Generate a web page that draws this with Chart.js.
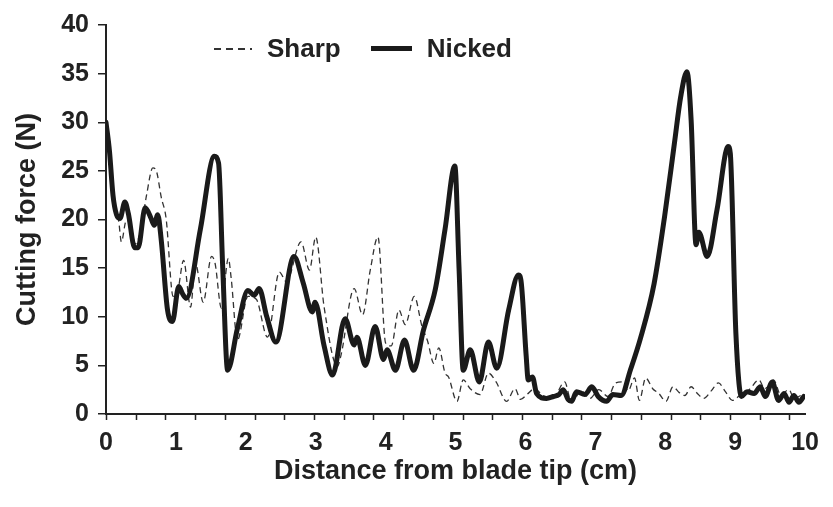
<!DOCTYPE html>
<html>
<head>
<meta charset="utf-8">
<script src="https://cdn.jsdelivr.net/npm/chart.js@4.4.1/dist/chart.umd.min.js"></script>
<style>
  body { margin: 0; background: #fff; }
  .wrap { position: relative; width: 833px; height: 507px; }
  .legend {
    position: absolute; top: 33px; left: 214px;
    font: bold 26px "Liberation Sans", Arial, sans-serif; color: #222;
    display: flex; align-items: center; white-space: nowrap;
  }
  .swatch { display: inline-block; width: 38px; margin-right: 15px; }
  .dash { height: 2px; background: repeating-linear-gradient(90deg, #333 0 7px, transparent 7px 12px); }
  .solid { height: 5px; background: #1a1a1a; width: 41px; }
  .gap { width: 30px; display: inline-block; }
</style>
</head>
<body>
<div class="wrap">
  <canvas id="forceChart"></canvas>
  <div class="legend">
    <span class="swatch dash"></span><span>Sharp</span>
    <span class="gap"></span>
    <span class="swatch solid"></span><span>Nicked</span>
  </div>
</div>
<script>
// ========== DATA ==========
const sharpX = [0.00,0.06,0.12,0.18,0.22,0.29,0.35,0.42,0.50,0.58,0.67,0.72,0.79,0.86,0.96,1.03,1.11,1.21,1.28,1.39,
  1.51,1.56,1.65,1.75,1.79,1.88,2.03,2.15,2.31,2.48,2.58,2.79,2.91,3.00,3.12,3.31,3.36,3.55,3.67,3.78,
  3.89,4.00,4.08,4.19,4.28,4.41,4.52,4.60,4.69,4.76,4.85,4.90,5.02,5.11,5.21,5.35,5.47,5.58,5.73,5.85,
  5.93,6.02,6.13,6.25,6.40,6.56,6.66,6.80,6.92,7.05,7.18,7.29,7.39,7.47,7.56,7.63,7.72,7.82,7.91,8.01,
  8.11,8.20,8.28,8.37,8.46,8.55,8.66,8.76,8.86,8.96,9.08,9.20,9.34,9.42,9.48,9.55,9.65,9.77,9.84,9.91,9.98];
const sharpY = [29.5,25.5,21.0,19.9,17.7,19.9,19.5,17.5,19.0,22.5,25.3,25.0,22.3,20.1,12.1,12.8,15.8,11.0,15.5,11.5,
  16.2,15.5,10.9,16.0,14.0,7.6,12.1,11.8,7.9,14.6,13.6,17.7,14.8,18.2,11.0,4.9,6.0,12.9,10.2,14.8,
  18.2,7.3,7.0,10.7,9.2,12.1,9.0,7.5,5.2,6.8,4.2,3.8,1.3,3.5,2.6,2.0,4.2,3.3,1.3,2.6,
  1.5,2.0,2.6,1.9,1.7,3.3,1.2,2.4,1.6,2.5,1.8,3.2,3.3,2.4,3.7,1.4,3.7,2.6,2.1,1.3,
  2.8,2.2,1.9,2.8,2.1,1.6,2.4,3.2,2.3,1.4,2.0,2.5,3.5,2.6,2.9,3.5,2.0,2.5,1.6,1.8,2.1];

const nickedX = [0.00,0.05,0.10,0.15,0.20,0.27,0.32,0.41,0.46,0.56,0.64,0.69,0.74,0.79,0.88,0.95,1.04,1.10,1.15,1.35,
  1.55,1.61,1.67,1.74,1.88,2.03,2.12,2.19,2.30,2.43,2.69,2.82,2.95,2.99,3.12,3.24,3.42,3.55,3.59,3.71,
  3.85,3.97,4.02,4.14,4.27,4.40,4.54,4.71,4.85,4.99,5.05,5.11,5.21,5.34,5.47,5.59,5.76,5.90,5.94,6.01,
  6.04,6.10,6.16,6.30,6.40,6.48,6.54,6.61,6.66,6.73,6.85,6.95,7.04,7.16,7.25,7.37,7.50,7.65,7.84,7.99,
  8.13,8.22,8.31,8.37,8.44,8.48,8.60,8.74,8.90,8.93,9.01,9.09,9.17,9.27,9.36,9.43,9.53,9.62,9.70,9.77,
  9.84,9.91,9.98];
const nickedY = [30.0,27.0,22.5,20.5,20.1,21.8,20.6,17.1,17.1,21.2,20.2,19.4,20.5,17.9,10.7,9.5,13.1,12.3,11.9,19.0,
  26.5,25.8,15.0,4.5,8.8,12.7,12.2,12.9,10.0,7.4,16.2,13.5,10.5,11.5,7.0,4.0,9.8,7.1,7.9,5.0,
  9.0,5.6,6.6,4.5,7.6,4.5,8.6,12.8,19.0,25.5,15.0,4.5,6.6,3.3,7.4,4.7,10.7,14.3,13.5,6.0,
  3.5,3.8,2.1,1.6,1.8,2.0,2.5,1.5,1.3,2.3,2.0,2.8,1.8,1.3,2.0,1.9,4.5,7.9,13.4,20.3,
  27.8,32.6,35.2,30.2,17.4,18.7,16.2,21.0,27.5,26.8,8.3,1.8,2.3,2.1,2.8,1.8,3.3,1.4,2.1,1.2,
  1.9,1.2,1.8];

const xTickLabels = [0,1,2,3,4,5,6,7,8,9,10];
const yTickLabels = [0,5,10,15,20,25,30,35,40];

function toPoints(xs, ys) {
  return xs.map(function (x, i) { return { x: x, y: ys[i] }; });
}

const axisColor = "#222";
const fontFamily = "'Liberation Sans', Arial, sans-serif";

// small tick marks along the x axis, every 0.425 cm like the original plot
const minorTicks = {
  id: "minorTicks",
  afterDraw: function (chart) {
    const xs = chart.scales.x;
    const c = chart.ctx;
    const top = chart.chartArea.bottom;
    c.save();
    c.strokeStyle = axisColor;
    c.lineWidth = 1.5;
    c.beginPath();
    for (let v = 0; v < 9.9; v += 0.425) {
      const px = Math.round(xs.getPixelForValue(v)) + 0.5;
      c.moveTo(px, top);
      c.lineTo(px, top + 6);
    }
    c.stroke();
    c.restore();
  }
};

const ctx = document.getElementById("forceChart");

new Chart(ctx, {
  type: "line",
  data: {
    datasets: [
      {
        label: "Sharp",
        data: toPoints(sharpX, sharpY),
        borderColor: "#333",
        borderWidth: 1.3,
        borderDash: [6, 4],
        pointRadius: 0,
        cubicInterpolationMode: "monotone",
        order: 2
      },
      {
        label: "Nicked",
        data: toPoints(nickedX, nickedY),
        borderColor: "#1a1a1a",
        borderWidth: 5,
        pointRadius: 0,
        cubicInterpolationMode: "monotone",
        borderJoinStyle: "round",
        borderCapStyle: "round",
        order: 1
      }
    ]
  },
  plugins: [minorTicks],
  options: {
    responsive: true,
    maintainAspectRatio: false,
    animation: false,
    layout: {
      padding: { top: 25, right: 25, left: 0, bottom: 0 }
    },
    plugins: {
      legend: { display: false },
      tooltip: { enabled: false }
    },
    scales: {
      x: {
        type: "linear",
        position: "bottom",
        min: 0,
        max: 10,
        afterBuildTicks: function (scale) {
          scale.ticks = xTickLabels.map(function (v) { return { value: v }; });
        },
        afterFit: function (scale) { scale.height = 93; },
        grid: { display: false, drawTicks: false },
        border: { display: true, color: axisColor, width: 2 },
        ticks: {
          color: axisColor,
          padding: 14,
          maxRotation: 0,
          font: { family: fontFamily, size: 25, weight: "bold" }
        },
        title: {
          display: true,
          text: "Distance from blade tip (cm)",
          color: axisColor,
          padding: { top: 0, bottom: 19 },
          font: { family: fontFamily, size: 27, weight: "bold" }
        }
      },
      y: {
        min: 0,
        max: 40,
        afterBuildTicks: function (scale) {
          scale.ticks = yTickLabels.map(function (v) { return { value: v }; });
        },
        afterFit: function (scale) { scale.width = 106; },
        grid: {
          drawOnChartArea: false,
          tickLength: 8,
          color: axisColor,
          lineWidth: 1.5
        },
        border: { display: true, color: axisColor, width: 2 },
        ticks: {
          color: axisColor,
          padding: 9,
          font: { family: fontFamily, size: 25, weight: "bold" }
        },
        title: {
          display: true,
          text: "Cutting force (N)",
          color: axisColor,
          padding: { top: 11, bottom: 0 },
          font: { family: fontFamily, size: 27, weight: "bold" }
        }
      }
    }
  }
});
</script>
</body>
</html>
